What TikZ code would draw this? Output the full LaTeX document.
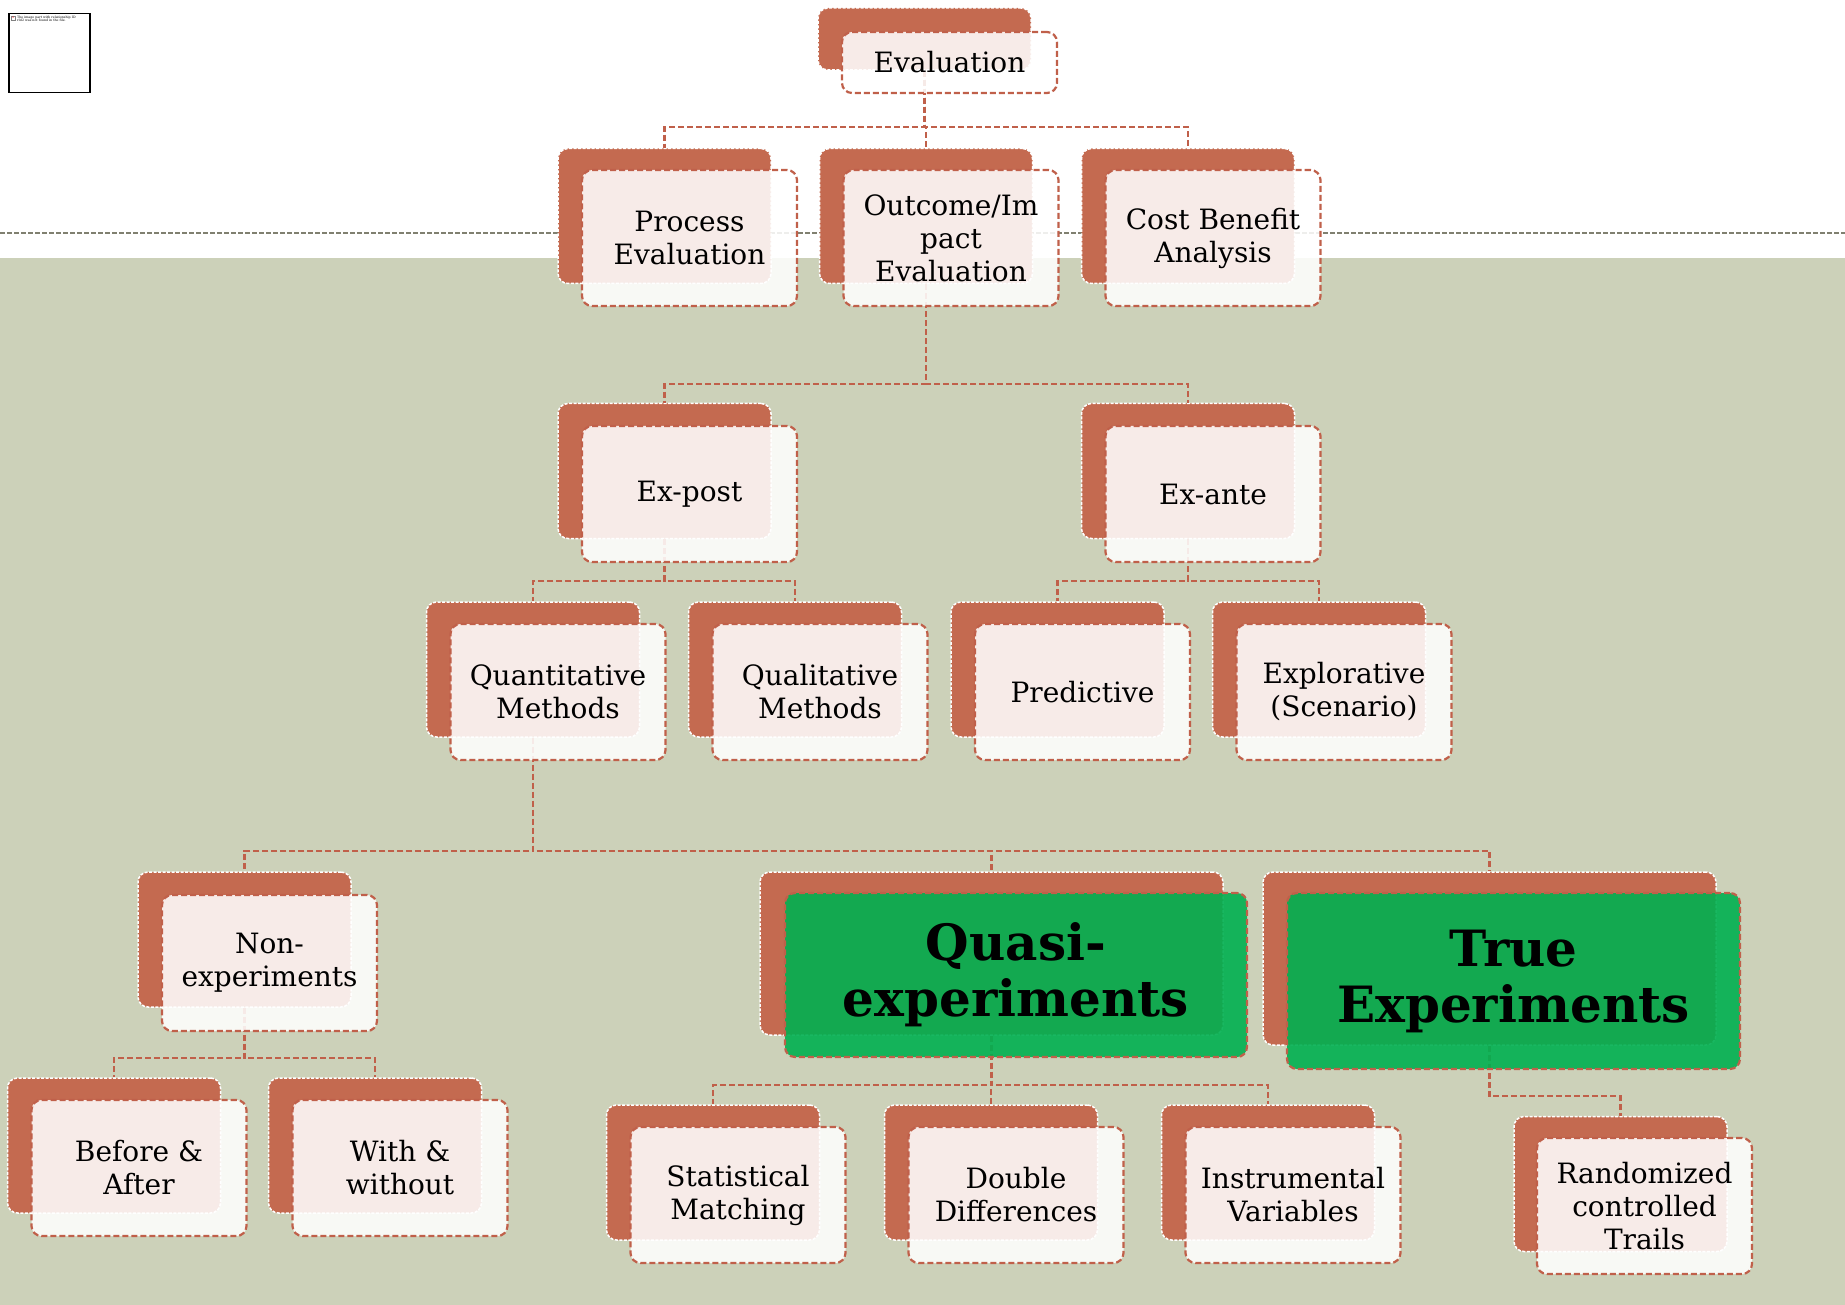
\documentclass[tikz,border=0pt]{standalone}
\usepackage{fontspec}
\setmainfont{DejaVu Serif}
\usetikzlibrary{calc}

\definecolor{terra}{RGB}{196,106,80}
\definecolor{edgered}{RGB}{192,96,74}
\definecolor{sage}{RGB}{204,209,185}
\definecolor{rulegray}{RGB}{128,128,112}
\definecolor{officegreen}{RGB}{0,176,80}

\tikzset{
  backcard/.style={draw=white, fill=terra, line width=1.5pt,
    dash pattern=on 3pt off 1.5pt, rounded corners=10pt,
    minimum width=213pt, minimum height=135pt, inner sep=0pt},
  frontcard/.style={draw=edgered, fill=white, fill opacity=0.87, text opacity=1,
    line width=2.2pt, dash pattern=on 6pt off 3pt, rounded corners=10pt,
    minimum width=215pt, minimum height=136pt, inner sep=0pt, align=center,
    font=\fontsize{28}{33}\selectfont},
  greencard/.style={frontcard, fill=officegreen, fill opacity=0.9,
    font=\fontsize{50}{56}\selectfont\bfseries},
  conn/.style={draw=edgered, line width=2.2pt, dash pattern=on 6pt off 3pt},
}

\begin{document}
\begin{tikzpicture}[x=1pt, y=-1pt]
\useasboundingbox (0,0) rectangle (1845,1305);

% page background: white header band, sage body, dashed divider
\fill[white] (0,0) rectangle (1845,1305);
\fill[sage] (0,258) rectangle (1845,1305);
\draw[rulegray, line width=1.3pt, dash pattern=on 5pt off 2pt] (0,233) -- (1845,233);

% missing-picture placeholder
\node[draw=black, line width=1.5pt, fill=white, minimum width=81pt, minimum height=79pt,
      inner sep=0pt, anchor=north west] (placeholder) at (8,13) {};
\node[draw=gray, fill=white, minimum size=4pt, inner sep=0pt, anchor=north west] (phicon) at (11,16) {};
\node[text=red, font=\fontsize{3}{3}\selectfont, inner sep=0pt] (phx) at (phicon.center) {x};
\node[font=\fontsize{3.2}{3.8}\selectfont, align=left, text width=62pt, inner sep=0pt,
      anchor=north west] (phtext) at (17,15.5)
      {The image part with relationship ID rId2 was not found in the file.};

% bar levels of the elbow connectors
\coordinate (barA) at (0,127);
\coordinate (barB) at (0,384);
\coordinate (barC) at (0,581);
\coordinate (barD) at (0,851);
\coordinate (barE) at (0,1058);
\coordinate (barF) at (0,1085);
\coordinate (barG) at (0,1096);

% back plates (terracotta, white dashed rim)
\node[backcard, minimum height=62pt] (evalB) at (924.5,39) {};
\node[backcard] (procB) at (664.5,216) {};
\node[backcard] (outB)  at (926,216) {};
\node[backcard] (costB) at (1188,216) {};
\node[backcard] (postB) at (664.5,471) {};
\node[backcard] (anteB) at (1188,471) {};
\node[backcard] (quantB) at (533,669.5) {};
\node[backcard] (qualB)  at (795,669.5) {};
\node[backcard] (predB)  at (1057.5,669.5) {};
\node[backcard] (explB)  at (1319,669.5) {};
\node[backcard] (nonB)   at (244.5,939.5) {};
\node[backcard, minimum width=463pt, minimum height=163pt] (quasiB) at (991.5,953.5) {};
\node[backcard, minimum width=453pt, minimum height=173pt] (trueB)  at (1489.5,958.5) {};
\node[backcard] (befB)  at (114,1145.5) {};
\node[backcard] (withB) at (375,1145.5) {};
\node[backcard] (statB) at (713,1172.5) {};
\node[backcard] (dblB)  at (991,1172.5) {};
\node[backcard] (instB) at (1268,1172.5) {};
\node[backcard] (randB) at (1620.5,1184) {};

% connectors, from plate to plate
\foreach \child in {procB,outB,costB}
  \draw[conn] (evalB.south) -- (evalB.south |- barA) -| (\child.north);
\foreach \child in {postB,anteB}
  \draw[conn] (outB.south) -- (outB.south |- barB) -| (\child.north);
\foreach \child in {quantB,qualB}
  \draw[conn] (postB.south) -- (postB.south |- barC) -| (\child.north);
\foreach \child in {predB,explB}
  \draw[conn] (anteB.south) -- (anteB.south |- barC) -| (\child.north);
\foreach \child in {nonB,quasiB,trueB}
  \draw[conn] (quantB.south) -- (quantB.south |- barD) -| (\child.north);
\foreach \child in {befB,withB}
  \draw[conn] (nonB.south) -- (nonB.south |- barE) -| (\child.north);
\foreach \child in {statB,dblB,instB}
  \draw[conn] (quasiB.south) -- (quasiB.south |- barF) -| (\child.north);
\draw[conn] (trueB.south) -- (trueB.south |- barG) -| (randB.north);

% front cards with labels
\node[frontcard, minimum height=61pt] (eval) at (949.5,62.5) {Evaluation};
\node[frontcard] (proc) at (689.5,238) {Process\\Evaluation};
\node[frontcard] (out)  at (951,238) {Outcome/Im\\pact\\Evaluation};
\node[frontcard] (cost) at (1213,238) {Cost Benefit\\Analysis};
\node[frontcard] (post) at (689.5,494) {Ex-post};
\node[frontcard] (ante) at (1213,494) {Ex-ante};
\node[frontcard] (quant) at (558,692) {Quantitative\\Methods};
\node[frontcard] (qual)  at (820,692) {Qualitative\\Methods};
\node[frontcard] (pred)  at (1082.5,692) {Predictive};
\node[frontcard] (expl)  at (1344,692) {Explorative\\(Scenario)};
\node[frontcard] (non)   at (269.5,963) {Non-\\experiments};
\node[greencard, minimum width=462pt, minimum height=164pt] (quasi) at (1016,975) {Quasi-\\experiments};
\node[greencard, minimum width=453pt, minimum height=176pt] (true)  at (1513.5,981) {True\\Experiments};
\node[frontcard] (bef)  at (139,1168) {Before \&\\After};
\node[frontcard] (with) at (400,1168) {With \&\\without};
\node[frontcard] (stat) at (738,1195) {Statistical\\Matching};
\node[frontcard] (dbl)  at (1016,1195) {Double\\Differences};
\node[frontcard] (inst) at (1293,1195) {Instrumental\\Variables};
\node[frontcard] (rand) at (1644.5,1206) {Randomized\\controlled\\Trails};
\end{tikzpicture}
\end{document}
